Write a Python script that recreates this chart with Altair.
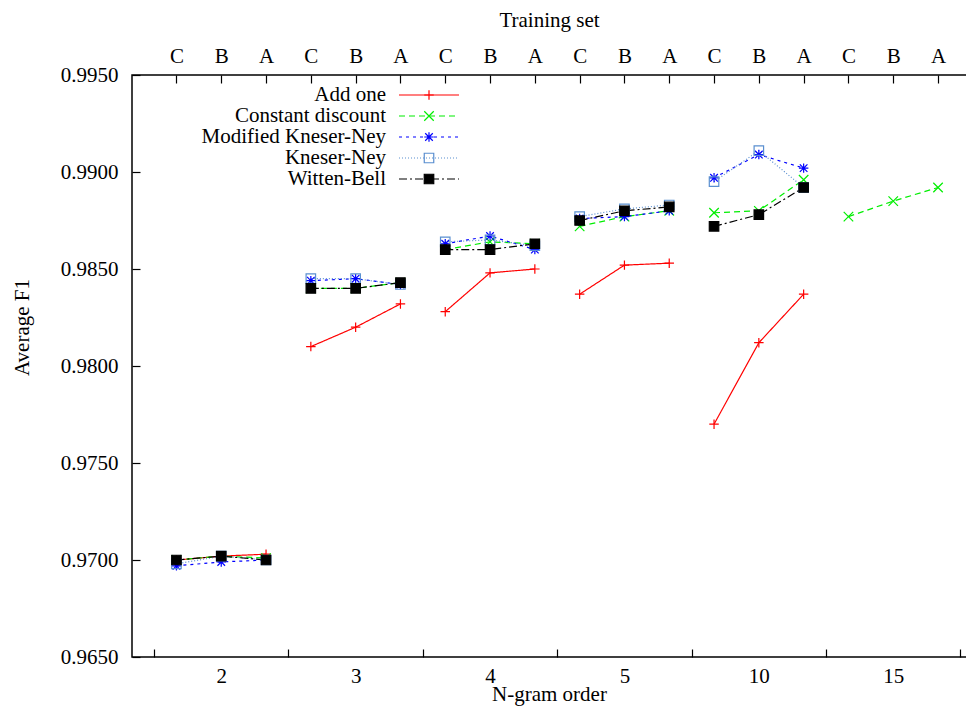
import json
import altair as alt
import pandas as pd

# ---------------- data ----------------
groups = ["2", "3", "4", "5", "10", "15"]          # N-gram order
train_sets = ["C", "B", "A"]                        # training set within each order
series = ["Add one", "Constant discount", "Modified Kneser-Ney", "Kneser-Ney", "Witten-Bell"]

# values per N-gram order, ordered C, B, A (None = not run)
add_one = [[0.9700, 0.9702, 0.9703], [0.9810, 0.9820, 0.9832], [0.9828, 0.9848, 0.9850],
           [0.9837, 0.9852, 0.9853], [0.9770, 0.9812, 0.9837], None]
constant_discount = [[0.9700, 0.9702, 0.9701], [0.9840, 0.9840, 0.9843], [0.9860, 0.9864, 0.9863],
                     [0.9872, 0.9877, 0.9880], [0.9879, 0.9880, 0.9896], [0.9877, 0.9885, 0.9892]]
modified_kn = [[0.9697, 0.9699, 0.9700], [0.9844, 0.9845, 0.9842], [0.9863, 0.9867, 0.9860],
               [0.9876, 0.9877, 0.9880], [0.9897, 0.9909, 0.9902], None]
kneser_ney = [[0.9698, 0.9702, 0.9700], [0.9845, 0.9845, 0.9842], [0.9864, 0.9865, 0.9862],
              [0.9877, 0.9881, 0.9883], [0.9895, 0.9911, 0.9892], None]
witten_bell = [[0.9700, 0.9702, 0.9700], [0.9840, 0.9840, 0.9843], [0.9860, 0.9860, 0.9863],
               [0.9875, 0.9880, 0.9882], [0.9872, 0.9878, 0.9892], None]

y_ticks = [0.965, 0.970, 0.975, 0.980, 0.985, 0.990, 0.995]

# ---------------- styles ----------------
FONT = "Liberation Serif"
FS = 21
colors = ["#ff0000", "#00ee00", "#0000ff", "#5a8fd0", "#000000"]
dashes = [[1, 0], [6, 4], [3, 4], [1, 2], [8, 3, 2, 3]]
PLUS = "M-1,0L1,0M0,-1L0,1"
CROSS = "M-1,-1L1,1M-1,1L1,-1"
STAR = "M-1,0L1,0M0,-1L0,1M-0.8,-0.8L0.8,0.8M-0.8,0.8L0.8,-0.8"
shapes = [PLUS, CROSS, STAR, "square", "square"]
fills = ["transparent", "transparent", "transparent", "transparent", "#000000"]

rows = []
for name, vals in zip(series, [add_one, constant_discount, modified_kn, kneser_ney, witten_bell]):
    for gi, trip in enumerate(vals):
        if trip is None:
            continue
        for si, v in enumerate(trip):
            rows.append({"series": name, "group": groups[gi], "set": train_sets[si],
                         "pos": gi + (si - 1) / 3, "value": v})
df = pd.DataFrame(rows)

UNIT = 134.4                    # pixels per N-gram group
W, H = 850, 582
x_min = -0.664
x_scale = alt.Scale(domain=[x_min, x_min + W / UNIT], nice=False, zero=False)
y_scale = alt.Scale(domain=[y_ticks[0], y_ticks[-1]], nice=False, zero=False)
stroke_scale = alt.Scale(domain=series, range=colors)
dash_scale = alt.Scale(domain=series, range=dashes)
shape_scale = alt.Scale(domain=series, range=shapes)
fill_scale = alt.Scale(domain=series, range=fills)

top_vals = [gi + (si - 1) / 3 for gi in range(len(groups)) for si in range(3)]
bottom_vals = sorted([gi - 0.5 for gi in range(len(groups) + 1)] + list(range(len(groups))))

common = dict(domain=False, grid=False, tickSize=8, offset=-8, tickColor="black", tickWidth=1.2,
              labelFont=FONT, labelFontSize=FS, labelColor="black",
              titleFont=FONT, titleFontSize=FS, titleColor="black", titleFontWeight="normal",
              labelFlush=False, labelOverlap=False)

top_axis = alt.Axis(orient="top", values=top_vals, title="Training set",
                    labelExpr=f"{json.dumps(train_sets)}[round((datum.value - round(datum.value)) * 3) + 1]",
                    labelPadding=9, titleX=425 - 8, titleY=-63, titleBaseline="middle", **common)
bottom_axis = alt.Axis(orient="bottom", values=bottom_vals, title="N-gram order",
                       labelExpr=f"datum.value % 1 == 0 ? {json.dumps(groups)}[datum.value] : ''",
                       tickOpacity={"condition": {"test": "datum.value % 1 == 0", "value": 0}, "value": 1},
                       labelPadding=8, titleX=425 - 8, titleY=45, titleBaseline="middle", **common)
left_axis = alt.Axis(orient="left", values=y_ticks, format=".4f", title="Average F1",
                     labelPadding=14, titleX=-118, titleY=252, titleBaseline="middle", **common)
right_axis = alt.Axis(orient="right", values=y_ticks, labels=False, title=None, **common)

lines = alt.Chart(df).mark_line(strokeWidth=1.2).encode(
    x=alt.X("pos:Q", scale=x_scale, axis=top_axis),
    y=alt.Y("value:Q", scale=y_scale, axis=left_axis),
    stroke=alt.Stroke("series:N", scale=stroke_scale, legend=None),
    strokeDash=alt.StrokeDash("series:N", scale=dash_scale, legend=None),
    detail="group:N",
)
points = alt.Chart(df).mark_point(filled=False, opacity=1, size=90, strokeWidth=1.2).encode(
    x=alt.X("pos:Q", scale=x_scale, axis=bottom_axis),
    y=alt.Y("value:Q", scale=y_scale, axis=right_axis),
    stroke=alt.Stroke("series:N", scale=stroke_scale, legend=None),
    fill=alt.Fill("series:N", scale=fill_scale, legend=None),
    shape=alt.Shape("series:N", scale=shape_scale, legend=None),
)
main = alt.layer(lines, points).resolve_axis(x="independent", y="independent")

# ---------------- key (gnuplot style: text left, sample right) ----------------
leg_df = pd.DataFrame({"series": series})
leg_y = alt.Y("series:N", scale=alt.Scale(type="point", domain=series, range=[20, 104], padding=0), axis=None)
leg_text = alt.Chart(leg_df).mark_text(align="right", baseline="middle", font=FONT, fontSize=FS,
                                       color="black").encode(x=alt.value(254), y=leg_y, text="series:N")
leg_rule = alt.Chart(leg_df).mark_rule(strokeWidth=1.2).encode(
    x=alt.value(267), x2=alt.value(327), y=leg_y,
    stroke=alt.Stroke("series:N", scale=stroke_scale, legend=None),
    strokeDash=alt.StrokeDash("series:N", scale=dash_scale, legend=None),
)
leg_pt = alt.Chart(leg_df).mark_point(filled=False, opacity=1, size=90, strokeWidth=1.2).encode(
    x=alt.value(297), y=leg_y,
    stroke=alt.Stroke("series:N", scale=stroke_scale, legend=None),
    fill=alt.Fill("series:N", scale=fill_scale, legend=None),
    shape=alt.Shape("series:N", scale=shape_scale, legend=None),
)
legend = alt.layer(leg_rule, leg_pt, leg_text)

# the frame continues past the right edge of the picture, as in the reference
chart = alt.layer(main, legend).resolve_scale(y="independent").properties(
    width=W, height=H,
    autosize=alt.AutoSizeParams(type="none"),
    padding={"left": 124, "top": 67, "right": -16, "bottom": 51},
).configure_view(stroke="black", strokeWidth=1.5)

chart.save("out.html", embed_options={"renderer": "svg", "actions": False})
